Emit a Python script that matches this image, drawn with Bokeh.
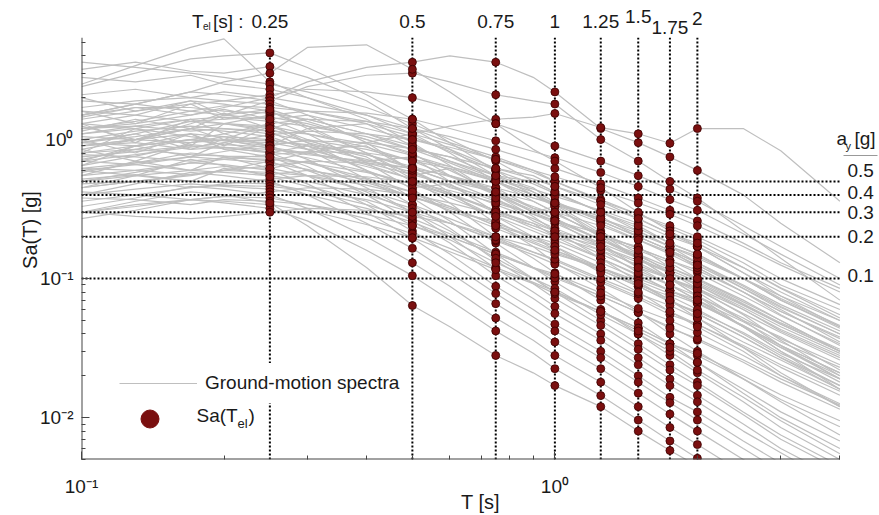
from bokeh.plotting import figure
from bokeh.models import (FixedTicker, CustomJSTickFormatter, Label, Legend, LegendItem,
                          Range1d, Arrow)
from bokeh.embed import file_html
from bokeh.resources import INLINE

# ---------------- data ----------------
periods = [0.1, 0.13, 0.17, 0.2, 0.25, 0.3, 0.4, 0.5, 0.6, 0.75, 0.9, 1.0, 1.25, 1.5, 1.75, 2.0, 2.5, 3.0, 4.0]

spectra = [
    [2.4, 3.0, 3.8, 4.0, 4.2, 3.3, 2.1, 1.4, 0.95, 0.6, 0.42, 0.34, 0.22, 0.15, 0.11, 0.085, 0.055, 0.036, 0.02],
    [3.2, 3.6, 3.1, 3.0, 3.35, 2.8, 1.9, 1.2, 0.85, 0.55, 0.4, 0.33, 0.21, 0.14, 0.1, 0.075, 0.045, 0.03, 0.016],
    [1.2, 1.3, 1.5, 1.7, 2.0, 2.6, 3.3, 3.6, 4.0, 3.6, 2.8, 2.2, 1.2, 0.95, 0.75, 0.6, 0.4, 0.25, 0.13],
    [0.45, 0.5, 0.55, 0.6, 0.7, 0.8, 0.95, 1.1, 1.25, 1.4, 1.45, 1.54, 1.22, 1.1, 0.94, 1.2, 1.2, 0.83, 0.36],
    [0.9, 1.0, 1.2, 1.5, 1.9, 2.4, 2.9, 3.0, 2.6, 2.1, 1.9, 1.8, 1.0, 0.7, 0.5, 0.38, 0.22, 0.14, 0.07],
    [2.5, 3.4, 4.6, 5.3, 2.6, 2.0, 1.5, 1.1, 0.8, 0.5, 0.36, 0.3, 0.2, 0.14, 0.1, 0.08, 0.05, 0.033, 0.019],
    [3.6, 3.3, 3.0, 2.8, 2.5, 2.2, 1.7, 1.3, 1.0, 0.7, 0.5, 0.42, 0.3, 0.22, 0.17, 0.13, 0.085, 0.06, 0.035],
    [2.8, 2.6, 2.9, 2.5, 2.3, 2.0, 1.4, 0.95, 0.65, 0.4, 0.28, 0.22, 0.14, 0.095, 0.07, 0.052, 0.032, 0.021, 0.012],
    [1.4, 1.6, 1.8, 1.9, 2.1, 2.3, 2.2, 2.0, 1.7, 1.3, 1.05, 0.9, 0.7, 0.55, 0.44, 0.36, 0.24, 0.17, 0.1],
    [2.1, 2.3, 2.0, 2.2, 2.0, 1.8, 1.5, 1.2, 0.95, 0.75, 0.6, 0.5, 0.36, 0.27, 0.21, 0.17, 0.11, 0.08, 0.05],
    [1.5, 1.8, 2.2, 2.1, 1.9, 1.5, 0.95, 0.6, 0.42, 0.25, 0.17, 0.13, 0.085, 0.058, 0.04, 0.03, 0.019, 0.013, 0.0075],
    [1.7, 1.9, 2.0, 1.9, 1.8, 1.6, 1.3, 1.05, 0.82, 0.6, 0.48, 0.41, 0.3, 0.23, 0.18, 0.15, 0.1, 0.075, 0.05],
    [1.9, 1.8, 1.6, 1.75, 1.7, 1.6, 1.35, 1.1, 0.92, 0.72, 0.58, 0.5, 0.37, 0.29, 0.23, 0.19, 0.13, 0.09, 0.06],
    [1.3, 1.5, 1.9, 1.8, 1.6, 1.25, 0.8, 0.52, 0.35, 0.2, 0.14, 0.11, 0.07, 0.048, 0.034, 0.025, 0.015, 0.01, 0.006],
    [1.5, 1.7, 1.7, 1.6, 1.55, 1.4, 1.1, 0.9, 0.7, 0.52, 0.42, 0.36, 0.26, 0.2, 0.16, 0.13, 0.09, 0.065, 0.042],
    [0.95, 1.05, 1.2, 1.3, 1.5, 1.6, 1.55, 1.4, 1.2, 0.98, 0.82, 0.74, 0.58, 0.46, 0.37, 0.31, 0.21, 0.15, 0.09],
    [1.6, 1.5, 1.35, 1.4, 1.45, 1.3, 1.0, 0.78, 0.6, 0.42, 0.32, 0.27, 0.19, 0.14, 0.11, 0.09, 0.06, 0.042, 0.027],
    [1.2, 1.35, 1.6, 1.5, 1.4, 1.1, 0.68, 0.44, 0.3, 0.18, 0.12, 0.095, 0.06, 0.04, 0.028, 0.021, 0.013, 0.0085, 0.005],
    [1.1, 1.25, 1.4, 1.45, 1.35, 1.25, 1.05, 0.85, 0.68, 0.5, 0.4, 0.34, 0.25, 0.19, 0.15, 0.12, 0.08, 0.058, 0.038],
    [0.8, 0.9, 1.0, 1.1, 1.3, 1.4, 1.35, 1.2, 1.05, 0.85, 0.7, 0.62, 0.48, 0.38, 0.31, 0.26, 0.18, 0.13, 0.085],
    [1.3, 1.2, 1.4, 1.3, 1.25, 1.1, 0.88, 0.7, 0.55, 0.4, 0.31, 0.27, 0.19, 0.145, 0.115, 0.095, 0.065, 0.047, 0.03],
    [0.95, 1.1, 1.35, 1.3, 1.2, 0.95, 0.6, 0.38, 0.26, 0.15, 0.1, 0.08, 0.05, 0.034, 0.024, 0.018, 0.011, 0.0075, 0.0045],
    [1.2, 1.25, 1.15, 1.2, 1.15, 1.1, 0.93, 0.77, 0.64, 0.5, 0.4, 0.35, 0.26, 0.2, 0.16, 0.13, 0.088, 0.063, 0.04],
    [1.0, 1.15, 1.25, 1.2, 1.1, 0.98, 0.78, 0.62, 0.5, 0.37, 0.29, 0.25, 0.18, 0.14, 0.11, 0.09, 0.062, 0.045, 0.029],
    [0.7, 0.78, 0.88, 0.95, 1.08, 1.15, 1.1, 1.0, 0.88, 0.72, 0.6, 0.54, 0.43, 0.35, 0.29, 0.24, 0.17, 0.125, 0.08],
    [0.85, 1.0, 1.2, 1.15, 1.05, 0.85, 0.52, 0.34, 0.23, 0.135, 0.092, 0.072, 0.046, 0.031, 0.022, 0.017, 0.0105, 0.007, 0.0042],
    [0.9, 1.0, 1.1, 1.05, 1.0, 0.9, 0.72, 0.58, 0.46, 0.34, 0.27, 0.23, 0.17, 0.13, 0.1, 0.085, 0.06, 0.043, 0.028],
    [1.05, 1.0, 0.95, 1.0, 0.98, 0.92, 0.78, 0.64, 0.54, 0.41, 0.33, 0.29, 0.21, 0.165, 0.135, 0.11, 0.075, 0.054, 0.034],
    [1.1, 1.2, 1.05, 0.98, 0.95, 0.85, 0.66, 0.52, 0.41, 0.3, 0.23, 0.2, 0.14, 0.105, 0.082, 0.067, 0.045, 0.032, 0.02],
    [0.6, 0.66, 0.75, 0.82, 0.92, 0.98, 0.95, 0.86, 0.75, 0.62, 0.52, 0.46, 0.36, 0.29, 0.24, 0.2, 0.14, 0.1, 0.065],
    [0.72, 0.85, 1.0, 0.98, 0.9, 0.72, 0.45, 0.3, 0.2, 0.118, 0.08, 0.063, 0.04, 0.027, 0.019, 0.0145, 0.009, 0.006, 0.0036],
    [0.95, 0.9, 1.0, 0.92, 0.88, 0.8, 0.64, 0.52, 0.41, 0.31, 0.24, 0.21, 0.15, 0.115, 0.09, 0.075, 0.052, 0.037, 0.024],
    [0.9, 0.95, 0.85, 0.88, 0.85, 0.8, 0.68, 0.56, 0.47, 0.36, 0.29, 0.26, 0.19, 0.15, 0.12, 0.098, 0.066, 0.048, 0.031],
    [0.75, 0.82, 0.9, 0.86, 0.82, 0.74, 0.59, 0.48, 0.38, 0.28, 0.22, 0.19, 0.14, 0.107, 0.082, 0.07, 0.049, 0.035, 0.023],
    [0.65, 0.76, 0.92, 0.88, 0.8, 0.64, 0.4, 0.26, 0.18, 0.105, 0.072, 0.056, 0.036, 0.024, 0.017, 0.013, 0.008, 0.0056, 0.0032],
    [0.55, 0.6, 0.68, 0.72, 0.78, 0.82, 0.8, 0.72, 0.64, 0.52, 0.44, 0.39, 0.31, 0.25, 0.2, 0.17, 0.12, 0.086, 0.055],
    [0.8, 0.85, 0.78, 0.76, 0.75, 0.68, 0.53, 0.42, 0.33, 0.24, 0.185, 0.16, 0.115, 0.088, 0.069, 0.056, 0.038, 0.027, 0.017],
    [0.78, 0.75, 0.7, 0.74, 0.72, 0.68, 0.58, 0.48, 0.4, 0.31, 0.25, 0.22, 0.16, 0.125, 0.1, 0.083, 0.056, 0.041, 0.026],
    [0.58, 0.68, 0.8, 0.76, 0.7, 0.55, 0.34, 0.22, 0.15, 0.088, 0.06, 0.047, 0.03, 0.02, 0.014, 0.011, 0.0068, 0.0047, 0.0028],
    [0.62, 0.68, 0.75, 0.72, 0.68, 0.61, 0.49, 0.39, 0.31, 0.23, 0.18, 0.155, 0.115, 0.088, 0.068, 0.058, 0.041, 0.029, 0.019],
    [0.45, 0.5, 0.56, 0.6, 0.65, 0.7, 0.68, 0.62, 0.55, 0.45, 0.38, 0.34, 0.27, 0.21, 0.17, 0.145, 0.1, 0.072, 0.046],
    [0.7, 0.66, 0.6, 0.64, 0.62, 0.55, 0.43, 0.34, 0.27, 0.2, 0.155, 0.135, 0.097, 0.074, 0.058, 0.047, 0.032, 0.023, 0.0145],
    [0.5, 0.58, 0.68, 0.66, 0.6, 0.48, 0.3, 0.195, 0.13, 0.078, 0.053, 0.042, 0.027, 0.018, 0.0128, 0.0096, 0.006, 0.0041, 0.0025],
    [0.62, 0.6, 0.56, 0.6, 0.58, 0.55, 0.47, 0.39, 0.32, 0.25, 0.2, 0.18, 0.13, 0.1, 0.082, 0.067, 0.046, 0.033, 0.021],
    [0.5, 0.55, 0.6, 0.58, 0.55, 0.5, 0.4, 0.32, 0.25, 0.187, 0.148, 0.127, 0.094, 0.072, 0.055, 0.047, 0.033, 0.024, 0.0155],
    [0.36, 0.4, 0.45, 0.48, 0.52, 0.55, 0.54, 0.49, 0.43, 0.35, 0.29, 0.26, 0.21, 0.165, 0.135, 0.115, 0.08, 0.058, 0.037],
    [0.4, 0.48, 0.58, 0.55, 0.5, 0.4, 0.25, 0.165, 0.11, 0.066, 0.045, 0.035, 0.0225, 0.015, 0.0106, 0.008, 0.005, 0.0034, 0.002],
    [0.52, 0.56, 0.5, 0.49, 0.48, 0.43, 0.34, 0.27, 0.21, 0.155, 0.12, 0.104, 0.075, 0.057, 0.045, 0.036, 0.025, 0.018, 0.0115],
    [0.48, 0.5, 0.45, 0.47, 0.46, 0.43, 0.37, 0.3, 0.25, 0.19, 0.155, 0.138, 0.1, 0.078, 0.064, 0.052, 0.035, 0.026, 0.016],
    [0.4, 0.44, 0.48, 0.46, 0.44, 0.4, 0.32, 0.255, 0.2, 0.15, 0.119, 0.101, 0.075, 0.057, 0.044, 0.037, 0.026, 0.019, 0.0123],
    [0.3, 0.33, 0.37, 0.39, 0.42, 0.45, 0.44, 0.4, 0.35, 0.29, 0.24, 0.21, 0.17, 0.135, 0.11, 0.092, 0.064, 0.047, 0.03],
    [0.33, 0.38, 0.46, 0.44, 0.4, 0.32, 0.2, 0.13, 0.088, 0.052, 0.036, 0.028, 0.018, 0.012, 0.0085, 0.0064, 0.004, 0.0027, 0.0016],
    [0.42, 0.4, 0.37, 0.39, 0.38, 0.34, 0.27, 0.21, 0.165, 0.12, 0.094, 0.081, 0.058, 0.044, 0.034, 0.028, 0.019, 0.0135, 0.0086],
    [0.38, 0.37, 0.34, 0.37, 0.36, 0.34, 0.29, 0.24, 0.2, 0.15, 0.12, 0.108, 0.079, 0.061, 0.05, 0.041, 0.028, 0.02, 0.0126],
    [0.3, 0.34, 0.37, 0.36, 0.34, 0.31, 0.245, 0.197, 0.156, 0.116, 0.092, 0.078, 0.058, 0.044, 0.034, 0.029, 0.02, 0.0146, 0.0095],
    [0.27, 0.31, 0.37, 0.35, 0.32, 0.26, 0.16, 0.105, 0.07, 0.042, 0.029, 0.0225, 0.0144, 0.0096, 0.0068, 0.0051, 0.0032, 0.0022, 0.0013],
    [0.3, 0.28, 0.27, 0.28, 0.3, 0.32, 0.31, 0.28, 0.25, 0.2, 0.17, 0.15, 0.12, 0.096, 0.078, 0.066, 0.046, 0.033, 0.021],
    [0.3, 0.36, 0.42, 0.4, 0.35, 0.24, 0.12, 0.064, 0.045, 0.028, 0.021, 0.017, 0.012, 0.008, 0.0058, 0.0045, 0.003, 0.002, 0.0012],
    [1.5, 1.8, 2.2, 2.6, 3.0, 4.6, 4.8, 3.2, 2.2, 1.3, 0.85, 0.7, 0.45, 0.3, 0.22, 0.17, 0.11, 0.075, 0.045],
    [1.3, 0.95, 1.4, 1.1, 0.9, 1.2, 0.8, 0.55, 0.62, 0.4, 0.3, 0.33, 0.2, 0.17, 0.12, 0.1, 0.07, 0.05, 0.03],
    [0.8, 1.2, 0.9, 1.3, 1.15, 0.85, 0.9, 0.6, 0.45, 0.38, 0.26, 0.22, 0.18, 0.12, 0.1, 0.075, 0.05, 0.038, 0.022],
    [1.0, 0.8, 1.1, 0.9, 1.25, 1.0, 0.7, 0.75, 0.5, 0.45, 0.32, 0.3, 0.2, 0.16, 0.13, 0.1, 0.068, 0.05, 0.03],
    [0.65, 0.9, 0.75, 0.95, 0.8, 0.9, 0.6, 0.45, 0.48, 0.3, 0.25, 0.2, 0.16, 0.11, 0.09, 0.07, 0.045, 0.032, 0.019],
    [1.6, 1.3, 1.8, 1.4, 1.6, 1.2, 1.3, 0.9, 0.7, 0.55, 0.45, 0.35, 0.28, 0.2, 0.16, 0.12, 0.08, 0.055, 0.033],
    [0.55, 0.7, 0.6, 0.75, 0.62, 0.7, 0.5, 0.42, 0.3, 0.26, 0.19, 0.17, 0.12, 0.09, 0.075, 0.06, 0.04, 0.028, 0.017],
    [1.15, 1.4, 1.2, 1.0, 1.3, 0.95, 0.75, 0.5, 0.4, 0.28, 0.2, 0.17, 0.11, 0.08, 0.058, 0.045, 0.03, 0.02, 0.012],
    [0.85, 0.7, 0.95, 1.05, 0.9, 1.0, 0.85, 0.7, 0.62, 0.5, 0.38, 0.35, 0.27, 0.22, 0.17, 0.14, 0.1, 0.07, 0.045],
    [2.0, 1.6, 1.9, 1.5, 1.65, 1.35, 1.0, 0.8, 0.55, 0.42, 0.3, 0.26, 0.17, 0.12, 0.09, 0.07, 0.045, 0.03, 0.018],
    [0.45, 0.55, 0.5, 0.62, 0.56, 0.6, 0.52, 0.38, 0.33, 0.24, 0.2, 0.16, 0.12, 0.092, 0.07, 0.056, 0.038, 0.027, 0.016],
    [1.25, 1.0, 1.3, 1.55, 1.2, 1.4, 1.1, 0.85, 0.75, 0.55, 0.5, 0.42, 0.3, 0.24, 0.18, 0.15, 0.1, 0.07, 0.044],
    [0.7, 0.9, 1.1, 0.85, 0.75, 0.6, 0.42, 0.3, 0.22, 0.14, 0.1, 0.085, 0.055, 0.04, 0.03, 0.022, 0.014, 0.0095, 0.0055],
    [0.95, 1.1, 0.85, 1.0, 0.86, 0.78, 0.7, 0.62, 0.5, 0.42, 0.36, 0.3, 0.24, 0.19, 0.155, 0.125, 0.085, 0.062, 0.04],
    [0.6, 0.55, 0.72, 0.65, 0.54, 0.46, 0.36, 0.24, 0.19, 0.13, 0.1, 0.08, 0.058, 0.042, 0.032, 0.025, 0.016, 0.011, 0.0068],
    [1.45, 1.7, 1.5, 1.65, 1.4, 1.5, 1.2, 1.0, 0.85, 0.62, 0.55, 0.46, 0.34, 0.27, 0.21, 0.18, 0.12, 0.085, 0.052],
]

tel = [0.25, 0.5, 0.75, 1.0, 1.25, 1.5, 1.75, 2.0]
tel_labels = ["0.25", "0.5", "0.75", "1", "1.25", "1.5", "1.75", "2"]
ay = [0.5, 0.4, 0.3, 0.2, 0.1]
ay_labels = ["0.5", "0.4", "0.3", "0.2", "0.1"]

# axis extents (the drawn axes) and the wider view that leaves room for side texts
x_lo, x_hi = 0.1, 4.0
y_lo, y_hi = 0.005, 5.4
view_x_hi, view_y_hi = 4.85, 10.0

# ---------------- styles ----------------
FONT = "Liberation Sans"
TXT = "#1a1a1a"
AX = "#444444"
GRAY = "#bfbfbf"
DOT_FILL = "#7a0f0f"
DOT_LINE = "#3a0000"
tel_label_dy = [0, 0, 0, 0, 0, 5, -6, 3]
ay_label_dy = [11, 2, 0, 0, 3]

p = figure(width=879, height=515, x_axis_type="log", y_axis_type="log",
           x_range=Range1d(x_lo, view_x_hi), y_range=Range1d(y_lo, view_y_hi),
           output_backend="svg", toolbar_location=None,
           min_border_left=81, min_border_right=0, min_border_top=0, min_border_bottom=56)
p.outline_line_color = None
p.grid.visible = False
p.background_fill_color = "white"

# spectra
n = len(periods)
rows = [r[:n] for r in spectra]
spec_r = p.multi_line(xs=[periods] * len(rows), ys=rows, line_color=GRAY, line_width=1.2)

# dotted reference lines
p.segment(x0=[x_lo] * len(ay), x1=[x_hi] * len(ay), y0=ay, y1=ay,
          line_color="black", line_width=2, line_dash="2 2")
p.segment(x0=tel, x1=tel, y0=[y_lo] * len(tel), y1=[y_hi] * len(tel),
          line_color="black", line_width=2, line_dash="2 2")

# Sa(Tel) points taken from the spectra
dx, dy = [], []
for t in tel:
    k = periods.index(t)
    for r in rows:
        dx.append(t)
        dy.append(r[k])
p.scatter(dx, dy, size=8, fill_color=DOT_FILL, line_color=DOT_LINE, line_width=0.8)

# drawn axis lines (limited to the data extent)
p.segment(x0=[x_lo, x_lo], x1=[x_hi, x_lo], y0=[y_lo, y_lo], y1=[y_lo, y_hi],
          line_color=AX, line_width=2)

# axes
minor_x = [0.2, 0.3, 0.4, 0.5, 0.6, 0.7, 0.8, 0.9, 2, 3, 4]
minor_y = [m * d for d in (0.001, 0.01, 0.1) for m in range(2, 10)] + [2, 3, 4, 5]
p.xaxis.ticker = FixedTicker(ticks=[0.1, 1.0], minor_ticks=minor_x)
p.yaxis.ticker = FixedTicker(ticks=[0.01, 0.1, 1.0], minor_ticks=minor_y)
fmt_code = """
const e = Math.round(Math.log10(tick));
const sup = {"-": "\u207b", "0": "\u2070", "1": "\u00b9", "2": "\u00b2", "3": "\u00b3"};
return "10" + String(e).split("").map(c => sup[c]).join("");
"""
for ax in (p.xaxis, p.yaxis):
    ax.formatter = CustomJSTickFormatter(code=fmt_code)
    ax.major_tick_in = 8
    ax.major_tick_out = 0
    ax.minor_tick_in = 4
    ax.minor_tick_out = 0
    ax.axis_line_color = None
    ax.major_tick_line_color = AX
    ax.minor_tick_line_color = AX
    ax.major_label_text_font = FONT
    ax.major_label_text_font_size = "19px"
    ax.major_label_text_color = TXT
    ax.axis_label_text_font = FONT
    ax.axis_label_text_font_size = "20px"
    ax.axis_label_text_font_style = "normal"
    ax.axis_label_text_color = TXT
p.xaxis.axis_label = "T [s]"
p.yaxis.axis_label = "Sa(T) [g]"
p.xaxis.major_label_standoff = 16
p.xaxis.axis_label_standoff = -9
p.yaxis.major_label_standoff = 8
p.yaxis.axis_label_standoff = -4

# legend
leg_dot = p.scatter([float("nan")], [float("nan")], fill_color=DOT_FILL, line_color=DOT_FILL)
legend1 = Legend(items=[LegendItem(label="Ground-motion spectra", renderers=[spec_r])],
                 location=(38, 56), glyph_width=78, glyph_height=40, label_height=40,
                 label_standoff=8, padding=4, margin=0, spacing=0,
                 background_fill_color="white", background_fill_alpha=1.0,
                 border_line_color=None, label_text_font=FONT,
                 label_text_font_size="19px", label_text_color=TXT)
legend2 = Legend(items=[LegendItem(label=" ", renderers=[leg_dot])],
                 location=(46, 18), glyph_width=45, glyph_height=45, label_height=45,
                 label_standoff=0, padding=0, margin=0, spacing=0,
                 background_fill_alpha=0.0, border_line_color=None,
                 label_text_font_size="4px")
p.add_layout(legend1)
p.add_layout(legend2)


def lab(text, x, y, xu="screen", yu="screen", size="19px", align="left", xo=0, yo=0):
    p.add_layout(Label(x=x, y=y, x_units=xu, y_units=yu, text=text, x_offset=xo, y_offset=yo,
                       text_font=FONT, text_font_size=size, text_color=TXT,
                       text_align=align, text_baseline="middle"))


lab("Sa(T", 115, 44)
lab("el", 156, 36, size="13px")
lab(")", 167, 44)

# top period labels
for t, s, d in zip(tel, tel_labels, tel_label_dy):
    lab(s, t, 438 + d, xu="data", align="center")
lab("T", 0.25, 438, xu="data", xo=-78)
lab("el", 0.25, 433, xu="data", xo=-67, size="10px")
lab("[s] :", 0.25, 438, xu="data", xo=-57)

# right a_y labels
lab("a", 755, 321)
lab("y", 764, 314, size="11px")
lab("[g]", 773, 321)
p.add_layout(Arrow(start=None, end=None, x_start=762, y_start=304, x_end=796, y_end=304,
                   start_units="screen", end_units="screen", line_color="#999999", line_width=1))
for v, s, d in zip(ay, ay_labels, ay_label_dy):
    lab(s, 766, v, yu="data", yo=d)

open("out.html", "w").write(file_html(p, INLINE))
